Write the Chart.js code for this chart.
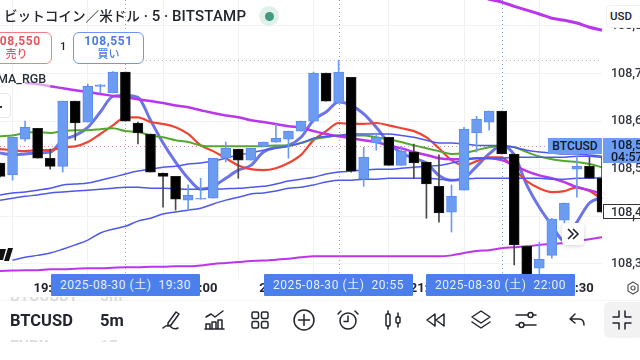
<!DOCTYPE html>
<html>
<head>
<meta charset="utf-8">
<title>BTCUSD</title>
<script src="https://cdn.jsdelivr.net/npm/chart.js@4"></script>
<style>
  html, body { margin: 0; padding: 0; background: #fff; }
  body { width: 640px; height: 360px; overflow: hidden; position: relative; font-family: Roboto, "Noto Sans CJK JP", sans-serif; color: #1e222d; }
  canvas { position: absolute; left: 0; top: 0; }
  .abs { position: absolute; white-space: nowrap; }
  .btn { position: absolute; top: 32px; height: 29px; border-radius: 6px; background: #fff; text-align: center; font-weight: 700; font-size: 12px; line-height: 15px; padding-top: 1px; letter-spacing: .6px; }
  .btn small { display: block; font-size: 11px; font-weight: 500; line-height: 12px; letter-spacing: 0; }
  .stamp { position: absolute; top: 274px; width: 149px; height: 22px; background: #4b7fec; color: #e8efff; border-radius: 1px; font-size: 12px; line-height: 22px; text-align: center; letter-spacing: .55px; white-space: pre; }
  .ghost { position: absolute; overflow: hidden; color: #dcdcdc; font-size: 15.5px; font-weight: 700; line-height: 20px; white-space: nowrap; }
  svg.ico { position: absolute; top: 308px; width: 24px; height: 24px; fill: none; stroke: #22252d; stroke-width: 1.5; stroke-linecap: round; stroke-linejoin: round; }
</style>
</head>
<body>
<canvas id="chart" width="640" height="300"></canvas>

<div class="abs" style="left:4px;top:6px;font-size:15px;font-weight:500;line-height:20px;color:#22252d"><span style="font-size:13.6px">ビットコイン／米ドル</span> · 5 · <span style="letter-spacing:.2px">BITSTAMP</span></div>
<div class="abs" style="left:259px;top:6px;width:20px;height:20px;border-radius:50%;background:#e2f0ec"></div>
<div class="abs" style="left:265px;top:12px;width:9px;height:9px;border-radius:50%;background:#3f9a80"></div>

<div class="btn" style="left:-19px;width:69px;border:1px solid #f08084;color:#e9545a">108,550<small>売り</small></div>
<div class="abs" style="left:60px;top:40px;font-size:11px;font-weight:500">1</div>
<div class="btn" style="left:73px;width:69px;border:1px solid #6f97f2;color:#4a7ae8">108,551<small>買い</small></div>

<div class="abs" style="left:-3px;top:71px;font-size:12.5px;font-weight:500;line-height:16px;color:#2a2e39">MA_RGB</div>
<div class="abs" style="left:-20px;top:93px;width:29px;height:23px;border:1px solid #e6e6e6;border-radius:4px;background:#fff"></div>
<div class="abs" style="left:0;top:106px;width:2px;height:2px;background:#333"></div>

<div class="abs" style="left:606px;top:5px;width:40px;height:21px;border:1px solid #f0f0f0;border-radius:4px;background:#fff;font-size:11.5px;font-weight:500;line-height:21px;text-indent:3px">USD</div>

<div class="abs" style="left:548px;top:138px;width:54px;height:16px;background:#6d9df2;font-size:12px;font-weight:500;line-height:16px;text-align:center;color:#10182a">BTCUSD</div>
<div class="abs" style="left:603px;top:138px;width:29px;height:25px;padding-left:8px;overflow:visible;background:#6d9df2;font-size:12.5px;font-weight:500;line-height:12px;color:#10182a;padding-top:1px;box-sizing:content-box;height:24px">108,551<br>04:57</div>
<div class="abs" style="left:603px;top:204px;width:40px;height:13px;border:1px solid #333;background:#fff;font-size:12.5px;font-weight:500;line-height:13px;text-indent:7px;color:#2a2e39">108,409</div>

<div class="abs" style="left:562px;top:223px;width:22px;height:22px;border-radius:4px;background:#fff;box-shadow:0 1px 4px rgba(0,0,0,.18)"></div>
<svg class="abs" style="left:566px;top:227px" width="14" height="14" viewBox="0 0 14 14" fill="none" stroke="#22252d" stroke-width="1.6"><path d="M2 2l5 5-5 5M7 2l5 5-5 5"/></svg>

<svg class="abs" style="left:0;top:246px" width="14" height="16" viewBox="0 0 14 16"><path d="M0 3H6L3 14H0ZM8 2H13L9 15H4Z" fill="#111"/></svg>

<div class="stamp" style="left:51px">2025-08-30 (土)  19:30</div>
<div class="stamp" style="left:264px">2025-08-30 (土)  20:55</div>
<div class="stamp" style="left:426px">2025-08-30 (土)  22:00</div>

<svg class="abs" style="left:625px;top:280px" width="16" height="16" viewBox="0 0 16 16" fill="none" stroke="#555" stroke-width="1.2"><path d="M8 2l5 3v6l-5 3-5-3V5z"/><circle cx="8" cy="8" r="2"/></svg>

<div class="abs" style="left:0;top:300px;width:640px;height:1px;background:#f5f5f5"></div>
<div class="ghost" style="left:10px;top:297px;height:7px;width:80px"><div style="margin-top:-11px">BTCUSDT</div></div>
<div class="ghost" style="left:100px;top:297px;height:7px;width:40px"><div style="margin-top:-11px">5m</div></div>
<div class="ghost" style="left:10px;top:337px;height:5px;width:80px"><div style="margin-top:-1px">EURX</div></div>
<div class="ghost" style="left:100px;top:337px;height:5px;width:40px"><div style="margin-top:-1px">15m</div></div>

<div class="abs" style="left:10px;top:311px;font-size:16.5px;font-weight:700;line-height:20px;color:#22252d">BTCUSD</div>
<div class="abs" style="left:100px;top:311px;font-size:16.5px;font-weight:700;line-height:20px;color:#22252d">5m</div>

<svg class="ico" style="left:160px" viewBox="0 0 24 24"><path d="M8 15l8-11 3 2-8 11-3 1zM3 20c3-3 6-3 8-1s5 2 7 1"/></svg>
<svg class="ico" style="left:203px" viewBox="0 0 24 24"><path d="M3 9l5-3 4 3 8-6M3 21v-5h4v5zM9 21v-7h4v7zM15 21v-9h4v9zM2 21h19"/></svg>
<svg class="ico" style="left:248px" viewBox="0 0 24 24"><rect x="4" y="4" width="6.5" height="6.5" rx="1.5"/><rect x="13.5" y="4" width="6.5" height="6.5" rx="1.5"/><rect x="4" y="13.5" width="6.5" height="6.5" rx="1.5"/><rect x="13.5" y="13.5" width="6.5" height="6.5" rx="1.5"/></svg>
<svg class="ico" style="left:292px" viewBox="0 0 24 24"><circle cx="12" cy="12" r="10"/><path d="M12 6.5v11M6.5 12h11"/></svg>
<svg class="ico" style="left:336px" viewBox="0 0 24 24"><circle cx="12" cy="13" r="8"/><path d="M12 8v5.5H8M2 6l3-3M22 6l-3-3"/></svg>
<svg class="ico" style="left:381px" viewBox="0 0 24 24"><rect x="5" y="6" width="4" height="12" rx="1"/><rect x="15" y="9" width="4" height="6" rx="1"/><path d="M7 3v3M7 18v3M17 5v4M17 15v4"/></svg>
<svg class="ico" style="left:424px" viewBox="0 0 24 24"><path d="M11 6l-8 6 8 6zM20 6l-8 6 8 6z"/></svg>
<svg class="ico" style="left:469px" viewBox="0 0 24 24"><path d="M12 3l9 6-9 6-9-6zM3 14l9 6 9-6"/></svg>
<svg class="ico" style="left:514px" viewBox="0 0 24 24"><path d="M2 7h12M19 7h3M2 17h3M10 17h12"/><circle cx="16.5" cy="7" r="2.5"/><circle cx="7.5" cy="17" r="2.5"/></svg>
<svg class="ico" style="left:565px" viewBox="0 0 24 24"><path d="M10 6l-5 5 5 4M5 11h9c3 0 5 2 5 6"/></svg>
<div class="abs" style="left:604px;top:302px;width:40px;height:36px;border-radius:6px;background:#f2f2f2"></div>
<svg class="ico" style="left:610px" viewBox="0 0 24 24"><path d="M9 3v6H3M15 3v6h6M9 21v-6H3M15 21v-6h6"/></svg>

<script>
// one candle every 5 minutes
const times = ['18:40','18:45','18:50','18:55','19:00','19:05','19:10','19:15','19:20','19:25','19:30','19:35','19:40','19:45','19:50','19:55','20:00','20:05','20:10','20:15','20:20','20:25','20:30','20:35','20:40','20:45','20:50','20:55','21:00','21:05','21:10','21:15','21:20','21:25','21:30','21:35','21:40','21:45','21:50','21:55','22:00','22:05','22:10','22:15','22:20','22:25','22:30','22:35','22:40'];
const timeTicks = ['19:00','19:30','20:00','20:30','21:00','21:30','22:00','22:30'];
const crosshairTimes = ['19:30','20:55','22:00'];

const opens  = [108512,108487,108562,108585,108522,108505,108642,108598,108673,108659,108703,108596,108573,108491,108484,108434,108436,108438,108522,108541,108518,108547,108556,108562,108579,108600,108701,108638,108692,108478,108554,108566,108507,108535,108514,108463,108409,108455,108575,108598,108621,108531,108337,108291,108318,108392,108499,108505,108480];
const closes = [108484,108566,108587,108522,108505,108642,108596,108673,108676,108703,108600,108575,108493,108484,108436,108444,108438,108522,108543,108518,108543,108556,108564,108579,108600,108701,108642,108703,108495,108524,108566,108507,108537,108512,108468,108407,108442,108583,108604,108621,108531,108340,108270,108310,108394,108428,108505,108480,108409];
const highs  = [108512,108566,108600,108585,108541,108642,108642,108678,108677,108704,108703,108598,108573,108491,108484,108466,108480,108522,108556,108541,108543,108556,108594,108579,108600,108703,108701,108728,108692,108545,108575,108566,108547,108552,108514,108529,108466,108587,108610,108621,108621,108531,108337,108346,108396,108428,108533,108524,108524];
const lows   = [108482,108476,108558,108522,108499,108493,108560,108598,108659,108659,108600,108552,108493,108419,108413,108413,108436,108438,108514,108480,108518,108547,108556,108522,108579,108600,108642,108638,108493,108463,108539,108507,108507,108480,108396,108388,108367,108455,108535,108581,108531,108298,108270,108270,108312,108386,108440,108480,108409];

const fastMa = [108533,108529,108531,108533,108535,108560,108570,108587,108619,108652,108654,108650,108602,108554,108514,108480,108457,108463,108480,108497,108507,108535,108545,108549,108566,108602,108619,108640,108633,108615,108587,108554,108533,108522,108512,108486,108476,108480,108505,108531,108549,108529,108466,108419,108381,108348,108388,108428,108440];
const midMa  = [108541,108539,108537,108539,108539,108545,108547,108556,108573,108591,108608,108608,108598,108594,108587,108573,108549,108537,108522,108507,108499,108497,108501,108512,108529,108560,108579,108596,108594,108594,108596,108591,108585,108579,108566,108543,108518,108507,108516,108524,108524,108499,108474,108459,108451,108453,108461,108453,108436];
const greenMa = [108568,108570,108575,108577,108575,108579,108581,108581,108583,108585,108579,108577,108570,108566,108560,108556,108549,108547,108547,108547,108547,108547,108549,108549,108554,108562,108566,108570,108570,108570,108566,108562,108556,108549,108543,108537,108531,108533,108539,108545,108547,108545,108535,108526,108520,108516,108514,108510,108503];
const slowMa = [null,null,108680,108678,108673,108669,108665,108661,108657,108653,108650,108646,108642,108638,108633,108629,108623,108617,108612,108608,108602,108598,108594,108589,108587,108579,108573,108568,108564,108560,108556,108549,108543,108535,108529,108522,108520,108520,108522,108522,108518,108507,108495,108486,108480,108472,108461,108455,108447];
const upperBand = [null,null,null,null,null,null,null,null,null,null,null,null,null,null,null,null,null,null,null,null,null,null,null,null,null,null,null,null,null,null,null,null,null,null,null,null,null,null,108864,108856,108850,108841,108833,108825,108816,108812,108806,108797,108791];
const lowerBand = [108285,108286,108287,108287,108289,108289,108290,108291,108291,108292,108293,108293,108294,108294,108295,108295,108297,108300,108302,108304,108306,108307,108309,108311,108314,108316,108316,108316,108316,108316,108316,108316,108316,108316,108316,108316,108318,108323,108327,108329,108333,108335,108337,108340,108342,108344,108348,108352,108356];
const envA = [108445,108449,108451,108455,108459,108466,108468,108470,108476,108482,108489,108495,108499,108503,108505,108510,108512,108516,108522,108529,108533,108539,108543,108547,108554,108564,108568,108570,108573,108573,108573,108573,108570,108566,108560,108554,108554,108552,108549,108549,108549,108545,108539,108535,108533,108531,108531,108529,108526];
const envB = [108434,108438,108442,108445,108449,108451,108453,108455,108457,108459,108461,108461,108459,108459,108458,108457,108457,108457,108458,108459,108461,108463,108468,108474,108478,108482,108489,108493,108495,108497,108499,108499,108501,108503,108505,108507,108512,108518,108522,108522,108522,108524,108524,108524,108524,108524,108526,108526,108524];
const envC = [null,108308,108314,108318,108323,108331,108340,108350,108365,108373,108379,108390,108396,108405,108409,108413,108417,108426,108434,108440,108447,108449,108453,108459,108461,108466,108472,108476,108476,108478,108478,108480,108480,108480,108480,108478,108476,108478,108480,108480,108480,108480,108480,108480,108478,108478,108480,108480,108482];

const highLine = 108728;
const priceLine = 108547;

const upFill = '#6c9bf2', upEdge = '#5a8cf0', downFill = '#000000', downEdge = '#1c1c1c';

function isUp(i) { return closes[i] >= opens[i]; }

function line(data, color, width) {
  return { type: 'line', data: data, borderColor: color, borderWidth: width, pointRadius: 0, cubicInterpolationMode: 'monotone', order: 5, spanGaps: false };
}

// dotted guides, drawn under the marks
const guides = {
  id: 'guides',
  beforeDatasetsDraw(chart) {
    const { ctx, chartArea, scales } = chart;
    ctx.save();
    ctx.lineWidth = 1;
    ctx.setLineDash([1, 3]);
    ctx.strokeStyle = '#7fa3f5';
    crosshairTimes.forEach(t => {
      const x = Math.round(scales.x.getPixelForValue(times.indexOf(t))) + 0.5;
      ctx.beginPath(); ctx.moveTo(x, chartArea.top); ctx.lineTo(x, chartArea.bottom); ctx.stroke();
    });
    ctx.strokeStyle = '#b5b5b5';
    let y = Math.round(scales.y.getPixelForValue(highLine)) + 0.5;
    ctx.beginPath(); ctx.moveTo(scales.x.getPixelForValue(11), y); ctx.lineTo(chartArea.right, y); ctx.stroke();
    ctx.strokeStyle = '#d58bb5';
    y = Math.round(scales.y.getPixelForValue(priceLine)) + 0.5;
    ctx.beginPath(); ctx.moveTo(chartArea.left, y); ctx.lineTo(chartArea.right, y); ctx.stroke();
    ctx.restore();
  }
};

new Chart(document.getElementById('chart').getContext('2d'), {
  data: {
    labels: times,
    datasets: [
      // wicks then bodies
      { type: 'bar', data: times.map((t, i) => [lows[i], highs[i]]), backgroundColor: times.map((t, i) => isUp(i) ? upFill : '#4a4a4a'), barThickness: 1, grouped: false, order: 2 },
      { type: 'bar', data: times.map((t, i) => [opens[i], closes[i]]), backgroundColor: times.map((t, i) => isUp(i) ? upFill : downFill), borderColor: times.map((t, i) => isUp(i) ? upEdge : downEdge), borderWidth: 1, borderSkipped: false, barThickness: 10, grouped: false, order: 1 },
      line(envA, '#4f58ec', 1.5),
      line(envB, '#4f58ec', 1.5),
      line(envC, '#4f58ec', 1.5),
      line(lowerBand, '#bb35ec', 2),
      line(upperBand, '#bb35ec', 3),
      Object.assign(line(slowMa, '#bb35ec', 2.5), { segment: { borderColor: c => c.p0DataIndex < 4 ? '#dda6f0' : undefined } }),
      line(greenMa, '#55a632', 2),
      line(midMa, '#ee4434', 2.2),
      line(fastMa, '#6c74ea', 3)
    ]
  },
  plugins: [guides],
  options: {
    responsive: false,
    animation: false,
    layout: { padding: 0 },
    plugins: { legend: { display: false }, tooltip: { enabled: false } },
    scales: {
      x: {
        type: 'category',
        offset: false,
        border: { display: false },
        grid: { drawTicks: false, color: c => c.tick && timeTicks.includes(c.tick.label) ? '#f1f1f3' : 'transparent' },
        ticks: {
          autoSkip: false, maxRotation: 0, padding: 3,
          color: '#22252d',
          font: { family: 'Roboto', size: 13, weight: '700' },
          callback: (v, i) => timeTicks.includes(times[i]) ? times[i] : null
        },
        afterFit: s => { s.height = 22; s.paddingLeft = 0; s.paddingRight = 0; }
      },
      y: {
        position: 'right',
        min: 108270.5,
        max: 108854.35,
        border: { display: false },
        grid: { drawTicks: false, color: '#f3f3f5' },
        ticks: {
          stepSize: 100, includeBounds: false, padding: 9,
          color: '#33363f',
          font: { family: 'Roboto', size: 12.5, weight: '500' },
          callback: v => v.toLocaleString('en-US')
        },
        afterFit: s => { s.width = 38; s.paddingTop = 0; s.paddingBottom = 0; }
      }
    }
  }
});
</script>
</body>
</html>
